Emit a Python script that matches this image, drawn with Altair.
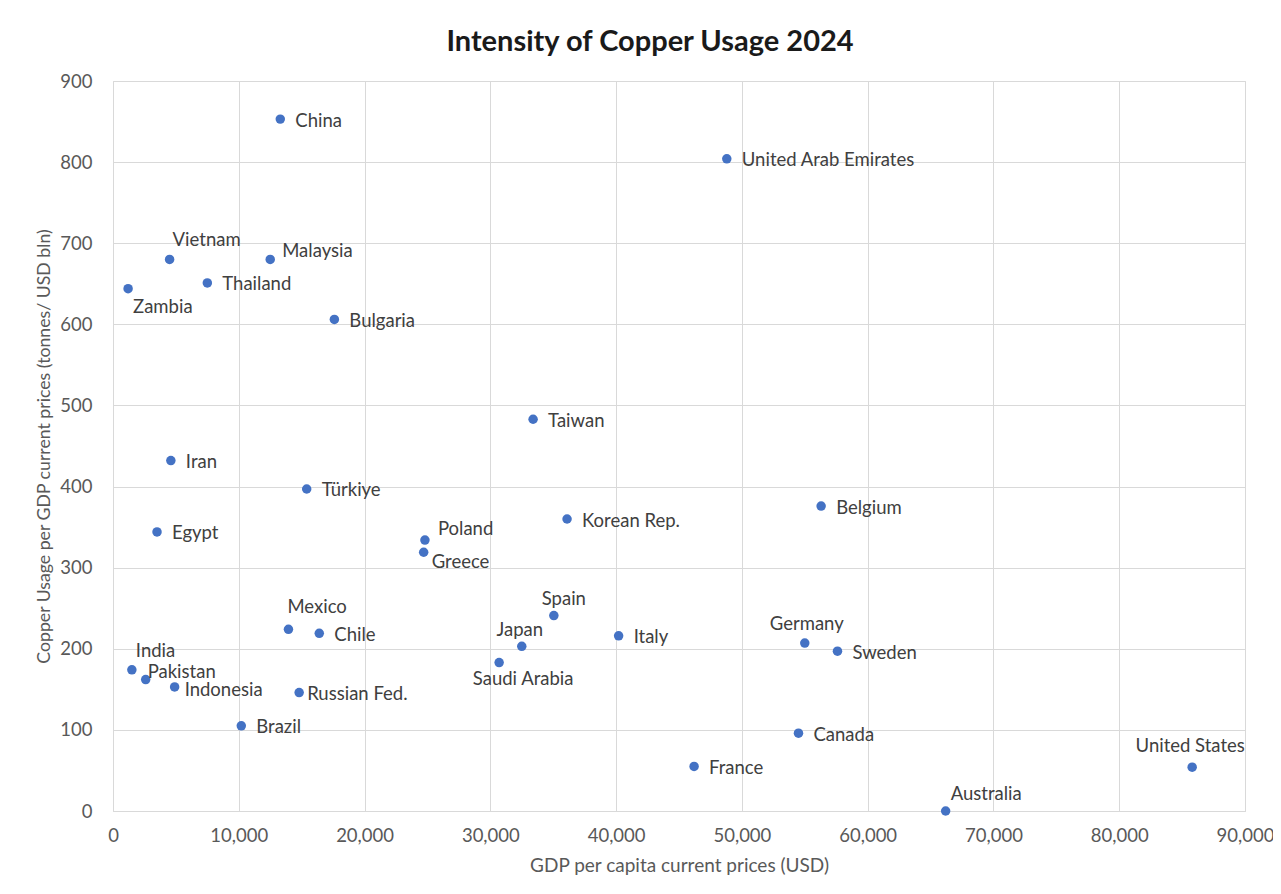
import altair as alt
import pandas as pd

# ---- data ----
countries = ["China", "United Arab Emirates", "Vietnam", "Malaysia", "Thailand", "Zambia",
             "Bulgaria", "Taiwan", "Iran", "Türkiye", "Egypt", "Poland", "Greece",
             "Korean Rep.", "Belgium", "Spain", "Mexico", "Chile", "Japan", "Italy",
             "Saudi Arabia", "India", "Pakistan", "Indonesia", "Russian Fed.", "Brazil",
             "Germany", "Sweden", "Canada", "France", "United States", "Australia"]
gdp_per_capita = [13300, 48800, 4500, 12500, 7500, 1200,
                  17600, 33400, 4600, 15400, 3500, 24800, 24700,
                  36100, 56300, 35050, 13950, 16400, 32500, 40200,
                  30700, 1500, 2600, 4900, 14800, 10200,
                  55000, 57600, 54500, 46200, 85800, 66200]
copper_intensity = [853, 804, 680, 680, 651, 644,
                    606, 483, 432, 397, 344, 334, 319,
                    360, 376, 241, 224, 219, 203, 216,
                    183, 174, 162, 153, 146, 105,
                    207, 197, 96, 55, 54, 0]

x_ticks = list(range(0, 90001, 10000))
y_ticks = list(range(0, 901, 100))

# ---- label placement styles (align, dx, dy) ----
label_style = {
    "Vietnam": ("left", 3, -19),
    "Malaysia": ("left", 12, -8),
    "Zambia": ("left", 5, 18),
    "Greece": ("left", 8, 10),
    "Poland": ("left", 13, -11),
    "Mexico": ("left", -1, -22),
    "Spain": ("center", 10, -17),
    "Japan": ("center", -2, -16),
    "Saudi Arabia": ("center", 24, 16),
    "India": ("left", 4, -19),
    "Pakistan": ("left", 2, -8),
    "Indonesia": ("left", 10, 3),
    "Russian Fed.": ("left", 8, 1),
    "Germany": ("center", 2, -19),
    "United States": ("center", -2, -21),
    "Australia": ("left", 5, -17),
}
default_style = ("left", 15, 1.5)

df = pd.DataFrame({"country": countries, "gdp": gdp_per_capita, "copper": copper_intensity})

FONT = "Lato"
TXT = "#404040"
AX = "#595959"
GRID = "#d9d9d9"

x_enc = alt.X("gdp:Q", scale=alt.Scale(domain=[0, 90000], nice=False),
              axis=alt.Axis(values=x_ticks, format=",d", title="GDP per capita current prices (USD)",
                            labelPadding=15, titlePadding=12, ticks=False, tickSize=0,
                            titleFontSize=19,
                            domainColor=GRID, gridColor=GRID, labelFlush=False))
y_enc = alt.Y("copper:Q", scale=alt.Scale(domain=[0, 900], nice=False),
              axis=alt.Axis(values=y_ticks, format="d",
                            title="Copper Usage per GDP current prices (tonnes/ USD bln)",
                            labelPadding=21, titlePadding=6, ticks=False, tickSize=0,
                            titleFontSize=17.7,
                            domain=False, gridColor=GRID))

points = alt.Chart(df).mark_circle(size=90, color="#4472C4", opacity=1).encode(x=x_enc, y=y_enc)

layers = [points]
groups = {}
for c in countries:
    groups.setdefault(label_style.get(c, default_style), []).append(c)
for (align, dx, dy), names in groups.items():
    layers.append(
        alt.Chart(df).transform_filter(alt.FieldOneOfPredicate(field="country", oneOf=names))
        .mark_text(align=align, baseline="middle", dx=dx, dy=dy, font=FONT, fontSize=18.5, color=TXT)
        .encode(x="gdp:Q", y="copper:Q", text="country:N")
    )

chart = alt.layer(*layers).properties(
    width=1132, height=730,
    autosize=alt.AutoSizeParams(type="none"),
    padding={"left": 105, "top": 73, "right": 28, "bottom": 75},
    title=alt.TitleParams("Intensity of Copper Usage 2024", font=FONT, fontSize=29, fontWeight="bold",
                          color="#1a1a1a", anchor="middle", dx=-29, offset=15),
).configure_axis(
    labelFont=FONT, titleFont=FONT, labelFontSize=18.5,
    labelColor=AX, titleColor=AX, titleFontWeight="normal", grid=True,
).configure_view(stroke=GRID)

chart.save("out.html", embed_options={"renderer": "svg", "actions": False})
